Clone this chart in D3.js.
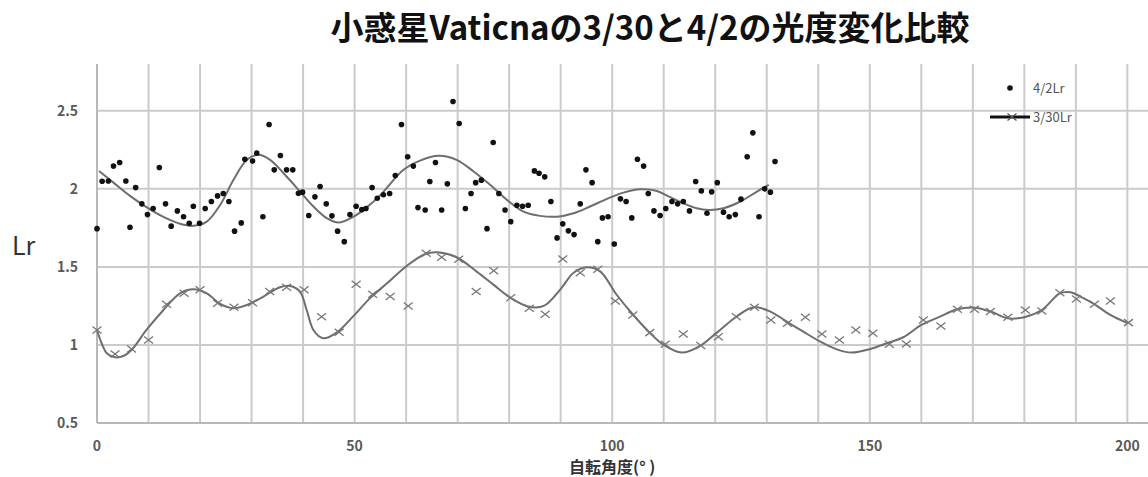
<!DOCTYPE html>
<html lang="ja">
<head>
   <meta charset="UTF-8">
   <title>小惑星Vaticnaの3/30と4/2の光度変化比較</title>
   <script src="https://d3js.org/d3.v7.min.js"></script>
   <style>
        html, body { margin: 0; background: #fff; overflow: hidden; }
        svg { display: block; }
        text { font-family: "Noto Sans CJK JP", "Noto Sans", sans-serif; }
    </style>
</head>
<body>
    <div id="chart"></div>
    <script>
        // 4/2 measurements (dots)
        const aprAngle = [0, 1.0, 2.2, 3.2, 4.4, 5.6, 6.4, 7.5, 8.7, 9.8, 10.9, 12.1, 13.3, 14.4, 15.6, 16.8, 17.9, 18.7, 19.9, 21.0,
            22.2, 23.4, 24.5, 25.6, 26.7, 28.0, 28.7, 30.2, 31.0, 32.2, 33.4, 34.4, 35.6, 36.8, 38.0, 39.1, 39.9, 41.1, 42.3, 43.3,
            44.5, 45.6, 46.7, 48.0, 49.1, 50.3, 51.4, 52.2, 53.4, 54.4, 55.6, 56.8, 57.9, 59.1, 60.3, 61.4, 62.3, 63.7, 64.6, 65.7,
            66.9, 68.0, 69.1, 70.3, 71.5, 72.6, 73.5, 74.6, 75.7, 76.9, 78.0, 79.2, 80.3, 81.5, 82.6, 83.7, 84.9, 85.8, 86.9, 88.1,
            89.3, 90.4, 91.5, 92.6, 93.8, 94.9, 96.1, 97.2, 98.1, 99.2, 100.4, 101.6, 102.7, 103.8, 104.9, 106.1, 107.0, 108.1, 109.3, 110.4,
            111.6, 112.7, 113.8, 115.0, 116.2, 117.3, 118.4, 119.3, 120.4, 121.6, 122.7, 123.9, 125.0, 126.2, 127.3, 128.5, 129.6, 130.7, 131.6];
        const aprLr = [1.745, 2.049, 2.05, 2.146, 2.169, 2.05, 1.754, 2.008, 1.904, 1.835, 1.874, 2.137, 1.904, 1.761, 1.859, 1.821, 1.78, 1.889, 1.78, 1.874,
            1.919, 1.955, 1.97, 1.919, 1.729, 1.782, 2.19, 2.178, 2.229, 1.821, 2.412, 2.122, 2.214, 2.122, 2.122, 1.972, 1.979, 1.829, 1.949, 2.015,
            1.904, 1.827, 1.729, 1.662, 1.835, 1.889, 1.867, 1.874, 2.008, 1.94, 1.962, 1.97, 2.085, 2.412, 2.205, 2.146, 1.88, 1.865, 2.047, 2.169,
            1.865, 2.032, 2.56, 2.419, 1.874, 1.97, 2.04, 2.056, 1.745, 2.297, 1.97, 1.865, 1.79, 1.895, 1.889, 1.895, 2.115, 2.1, 2.077, 1.919,
            1.686, 1.776, 1.731, 1.707, 1.904, 2.122, 2.04, 1.662, 1.814, 1.821, 1.647, 1.936, 1.919, 1.814, 2.19, 2.146, 1.97, 1.859, 1.829, 1.874,
            1.919, 1.904, 1.919, 1.859, 2.047, 1.987, 1.844, 1.981, 2.04, 1.851, 1.821, 1.835, 1.934, 2.205, 2.359, 1.821, 2.0, 1.979, 2.175];

        // 4/2 fitted curve
        const aprFitAngle = [0.4, 3.2, 6.4, 9.6, 12.9, 16.1, 18.7, 21.3, 23.9, 26.5, 29.1, 31.3, 33.6, 36.8, 39.4, 42.0, 44.6, 46.9, 49.8, 52.4,
            55.0, 59.5, 62.7, 66.3, 69.8, 73.1, 76.3, 79.6, 82.8, 86.0, 89.3, 92.5, 95.7, 99.0, 102.2, 105.4, 108.5, 111.0, 113.8, 116.4,
            118.7, 121.6, 124.9, 128.1, 130.4];
        const aprFitLr = [2.115, 2.04, 1.955, 1.883, 1.82, 1.776, 1.763, 1.79, 1.897, 2.058, 2.186, 2.218, 2.186, 2.079, 1.983, 1.887, 1.812, 1.784, 1.822, 1.883,
            1.96, 2.122, 2.181, 2.212, 2.186, 2.111, 2.026, 1.929, 1.854, 1.827, 1.822, 1.844, 1.887, 1.936, 1.976, 1.997, 1.988, 1.95, 1.908, 1.876,
            1.865, 1.876, 1.919, 1.983, 2.026];

        // 3/30 measurements (crosses)
        const marAngle = [0, 3.5, 6.7, 10.0, 13.5, 16.9, 20.0, 23.4, 26.6, 30.2, 33.5, 36.8, 40.2, 43.6, 47.0, 50.3, 53.5, 56.9, 60.4, 63.9,
            66.9, 70.2, 73.6, 77.0, 80.3, 83.9, 87.0, 90.4, 93.8, 97.2, 100.6, 104.0, 107.3, 110.3, 113.8, 117.2, 120.6, 124.1, 127.6, 130.8,
            134.0, 137.5, 140.7, 144.1, 147.3, 150.6, 153.8, 157.1, 160.4, 163.8, 167.0, 170.3, 173.4, 176.8, 180.2, 183.4, 186.9, 190.1, 193.6, 196.7, 200.2];
        const marLr = [1.096, 0.942, 0.974, 1.032, 1.261, 1.331, 1.353, 1.267, 1.242, 1.271, 1.342, 1.37, 1.353, 1.181, 1.081, 1.389, 1.325, 1.31, 1.25, 1.588,
            1.562, 1.549, 1.342, 1.476, 1.303, 1.235, 1.197, 1.551, 1.463, 1.485, 1.282, 1.192, 1.079, 1.004, 1.07, 0.996, 1.053, 1.181, 1.242, 1.16,
            1.139, 1.178, 1.07, 1.032, 1.096, 1.075, 1.004, 1.006, 1.16, 1.122, 1.229, 1.229, 1.214, 1.178, 1.224, 1.218, 1.335, 1.295, 1.261, 1.282, 1.143];

        // 3/30 fitted curve
        const marFitAngle = [0, 0.9, 1.9, 3.5, 5.1, 6.7, 9.6, 12.9, 16.1, 18.7, 21.3, 23.9, 26.5, 29.1, 32.3, 35.5, 37.5, 39.4, 40.7, 42.0,
            43.9, 46.5, 49.8, 53.0, 56.3, 60.1, 63.7, 66.0, 69.8, 73.7, 77.0, 80.2, 83.7, 86.7, 90.1, 92.5, 95.1, 97.7, 100.9, 104.1,
            107.4, 110.0, 113.5, 117.1, 120.3, 124.1, 127.4, 130.7, 133.9, 137.1, 140.4, 143.6, 146.5, 150.1, 153.3, 156.6, 160.0, 163.5, 167.0, 170.3,
            173.5, 176.8, 180.0, 183.4, 186.9, 189.0, 190.9, 193.5, 196.7, 200.0];
        const marFitLr = [1.096, 1.011, 0.947, 0.921, 0.929, 0.968, 1.096, 1.224, 1.331, 1.357, 1.331, 1.263, 1.235, 1.256, 1.31, 1.37, 1.378, 1.342, 1.224, 1.096,
            1.043, 1.079, 1.186, 1.3, 1.395, 1.506, 1.583, 1.594, 1.562, 1.47, 1.385, 1.303, 1.246, 1.25, 1.363, 1.463, 1.498, 1.47, 1.32, 1.192,
            1.075, 1.0, 0.951, 0.994, 1.079, 1.181, 1.242, 1.214, 1.149, 1.085, 1.021, 0.972, 0.951, 0.974, 1.011, 1.051, 1.128, 1.18, 1.229, 1.239,
            1.214, 1.171, 1.178, 1.224, 1.331, 1.338, 1.31, 1.263, 1.192, 1.14];

        const yTicks = [0.5, 1, 1.5, 2, 2.5];
        const xTicks = [0, 50, 100, 150, 200];

        const width = 1148;
        const height = 477;

        const x = d3.scaleLinear().domain([0, 204]).range([97, 1148]);
        const y = d3.scaleLinear().domain([0.5, 2.8]).range([423, 64]);

        const svg = d3.select("#chart")
            .append("svg")
            .attr("width", width)
            .attr("height", height);

        // grid lines
        svg.append("g")
            .selectAll("line")
            .data(d3.range(10, 210, 10))
            .enter()
            .append("line")
            .attr("x1", d => x(d)).attr("x2", d => x(d))
            .attr("y1", y(2.8)).attr("y2", y(0.5))
            .attr("stroke", "#cbcbcb")
            .attr("stroke-width", 2);

        svg.append("g")
            .selectAll("line")
            .data(yTicks.slice(1))
            .enter()
            .append("line")
            .attr("x1", x(0)).attr("x2", width)
            .attr("y1", d => y(d)).attr("y2", d => y(d))
            .attr("stroke", "#cbcbcb")
            .attr("stroke-width", 2);

        // axis lines
        svg.append("line")
            .attr("x1", x(0)).attr("x2", x(0))
            .attr("y1", y(2.8)).attr("y2", y(0.5))
            .attr("stroke", "#b8b8b8").attr("stroke-width", 2);
        svg.append("line")
            .attr("x1", x(0)).attr("x2", width)
            .attr("y1", y(0.5)).attr("y2", y(0.5))
            .attr("stroke", "#b8b8b8").attr("stroke-width", 2);

        // tick labels
        svg.append("g")
            .selectAll("text")
            .data(yTicks)
            .enter()
            .append("text")
            .attr("x", 78)
            .attr("y", d => y(d))
            .attr("dy", "0.35em")
            .attr("text-anchor", "end")
            .attr("font-size", 14)
            .attr("font-weight", 600)
            .attr("fill", "#595959")
            .text(d => d);

        svg.append("g")
            .selectAll("text")
            .data(xTicks)
            .enter()
            .append("text")
            .attr("x", d => x(d))
            .attr("y", 446)
            .attr("dy", "0.35em")
            .attr("text-anchor", "middle")
            .attr("font-size", 14)
            .attr("font-weight", 600)
            .attr("fill", "#595959")
            .text(d => d);

        // titles
        svg.append("text")
            .attr("x", 650).attr("y", 40)
            .attr("text-anchor", "middle")
            .attr("font-size", 33)
            .attr("font-weight", 700)
            .attr("fill", "#111")
            .text("小惑星Vaticnaの3/30と4/2の光度変化比較");

        svg.append("text")
            .attr("x", x(100)).attr("y", 473)
            .attr("text-anchor", "middle")
            .attr("font-size", 16)
            .attr("font-weight", 700)
            .attr("fill", "#333")
            .text("自転角度(° )");

        svg.append("text")
            .attr("x", 12).attr("y", 255)
            .attr("font-size", 25)
            .attr("fill", "#333")
            .text("Lr");

        const line = d3.line()
            .x(d => x(d[0]))
            .y(d => y(d[1]))
            .curve(d3.curveCatmullRom.alpha(0.5));

        // fitted curves
        svg.append("path")
            .datum(aprFitAngle.map((a, i) => [a, aprFitLr[i]]))
            .attr("d", line)
            .attr("fill", "none")
            .attr("stroke", "#6e6e6e")
            .attr("stroke-width", 2);

        svg.append("path")
            .datum(marFitAngle.map((a, i) => [a, marFitLr[i]]))
            .attr("d", line)
            .attr("fill", "none")
            .attr("stroke", "#6e6e6e")
            .attr("stroke-width", 2);

        // 3/30 crosses
        const cross = "M-4.5,-3.5L4.5,3.5M-4.5,3.5L4.5,-3.5";
        svg.append("g")
            .selectAll("path")
            .data(marAngle.map((a, i) => [a, marLr[i]]))
            .enter()
            .append("path")
            .attr("transform", d => `translate(${x(d[0])},${y(d[1])})`)
            .attr("d", cross)
            .attr("fill", "none")
            .attr("stroke", "#777")
            .attr("stroke-width", 1.3);

        // 4/2 dots
        svg.append("g")
            .selectAll("circle")
            .data(aprAngle.map((a, i) => [a, aprLr[i]]))
            .enter()
            .append("circle")
            .attr("cx", d => x(d[0]))
            .attr("cy", d => y(d[1]))
            .attr("r", 2.8)
            .attr("fill", "#111");

        // legend
        const legend = svg.append("g");
        legend.append("circle")
            .attr("cx", 1010).attr("cy", 88).attr("r", 2.8).attr("fill", "#111");
        legend.append("text")
            .attr("x", 1033).attr("y", 88).attr("dy", "0.35em")
            .attr("font-size", 13).attr("fill", "#555")
            .text("4/2Lr");
        legend.append("line")
            .attr("x1", 990).attr("x2", 1030).attr("y1", 117).attr("y2", 117)
            .attr("stroke", "#111").attr("stroke-width", 3);
        legend.append("path")
            .attr("transform", "translate(1012,117)")
            .attr("d", cross)
            .attr("fill", "none").attr("stroke", "#555").attr("stroke-width", 1.3);
        legend.append("text")
            .attr("x", 1033).attr("y", 117).attr("dy", "0.35em")
            .attr("font-size", 13).attr("fill", "#555")
            .text("3/30Lr");
    </script>
</body>
</html>
